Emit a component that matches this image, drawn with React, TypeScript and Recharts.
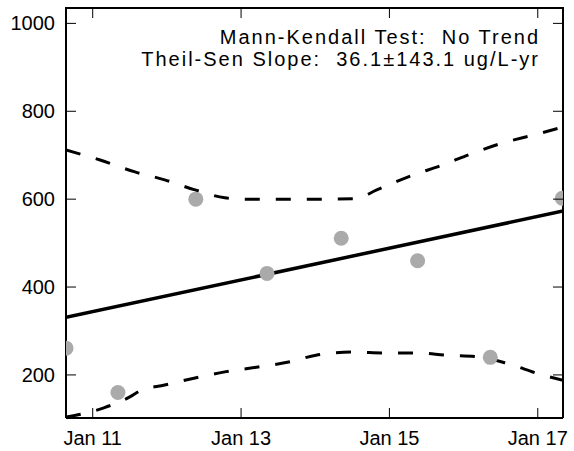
import React from 'react';
import { ComposedChart, Line, Scatter, XAxis, YAxis } from 'recharts';

// sample dates (decimal years) and concentrations
const sampleYears = [2010.64, 2011.34, 2012.39, 2013.35, 2014.35, 2015.38, 2016.36, 2017.33];
const sampleValues = [261, 160, 600, 431, 511, 460, 240, 602];

// Theil-Sen trend line end points
const trendYears = [2010.64, 2017.34];
const trendValues = [331, 573];

// confidence band
const upperYears = [2010.64, 2011.1, 2011.57, 2011.97, 2012.38, 2012.78, 2013.0, 2013.5, 2014.0, 2014.54, 2014.83, 2015.32, 2015.72, 2016.13, 2016.53, 2016.94, 2017.34];
const upperValues = [712, 689, 662, 644, 621, 603, 600, 600, 600, 601, 621, 655, 678, 705, 728, 746, 764];
const lowerYears = [2010.64, 2011.15, 2011.5, 2011.64, 2011.97, 2012.38, 2012.78, 2013.23, 2013.66, 2014.01, 2014.5, 2014.95, 2015.37, 2015.77, 2016.21, 2016.61, 2017.02, 2017.34];
const lowerValues = [104, 125, 150, 164, 177, 193, 207, 218, 230, 245, 252, 250, 250, 245, 241, 225, 202, 188];

const xTicks = [2011, 2013, 2015, 2017];
const yTicks = [200, 400, 600, 800, 1000];
const xDomain: [number, number] = [2010.64, 2017.34];
const yDomain: [number, number] = [102, 1035];

const toRows = (ts: number[], vs: number[]) => ts.map((t, i) => ({ t, v: vs[i] }));

// layout
const W = 574, H = 451;
const M = { top: 8, right: 10, bottom: 0, left: 0 };
const Y_W = 66, X_H = 33, R_W = 1;
const PLOT_LEFT = M.left + Y_W;
const PLOT_RIGHT = W - M.right - R_W;
const PLOT_TOP = M.top;

const font = '"Liberation Sans", Arial, sans-serif';
const axisLine = { stroke: '#000', strokeWidth: 2 };
const TL = 10; // inward tick length

const Dot = (p: any) => <circle cx={p.cx} cy={p.cy} r={7.5} fill="#aaaaaa" />;

// ticks point into the plot, matplotlib style; x ticks are repeated on the top frame
const BottomTick = ({ x, y, payload }: any) => (
  <g>
    <line x1={x} x2={x} y1={y} y2={y - TL} stroke="#000" />
    <line x1={x} x2={x} y1={PLOT_TOP} y2={PLOT_TOP + TL} stroke="#000" />
    <text x={x} y={y + 26.5} textAnchor="middle" fontSize={20} fontFamily={font} fill="#000">
      {`Jan ${String(payload.value).slice(2)}`}
    </text>
  </g>
);
const LeftTick = ({ x, y, payload }: any) => (
  <g>
    <line x1={x} x2={x + TL} y1={y} y2={y} stroke="#000" />
    <text x={x - 11} y={y + 7} textAnchor="end" fontSize={20} fontFamily={font} fill="#000">{payload.value}</text>
  </g>
);
const RightTick = ({ x, y }: any) => <line x1={x} x2={x - TL} y1={y} y2={y} stroke="#000" />;

export default function App() {
  const points = toRows(sampleYears, sampleValues);
  const trend = toRows(trendYears, trendValues);
  const upper = toRows(upperYears, upperValues);
  const lower = toRows(lowerYears, lowerValues);

  return (
    <div style={{ position: 'absolute', left: 0, top: 0, width: W, height: H, background: '#fff' }}>
      <ComposedChart width={W} height={H} margin={M}>
        <XAxis xAxisId="b" type="number" dataKey="t" domain={xDomain} allowDataOverflow ticks={xTicks}
          height={X_H} tickSize={0} tickMargin={0} axisLine={axisLine} tickLine={false} tick={BottomTick} />
        <YAxis yAxisId="l" type="number" domain={yDomain} allowDataOverflow ticks={yTicks} width={Y_W}
          tickSize={0} tickMargin={0} axisLine={axisLine} tickLine={false} tick={LeftTick} />
        <YAxis yAxisId="r" orientation="right" type="number" domain={yDomain} allowDataOverflow ticks={yTicks} width={R_W}
          tickSize={0} tickMargin={0} axisLine={axisLine} tickLine={false} tick={RightTick} />
        <Scatter xAxisId="b" yAxisId="l" data={points} dataKey="v" shape={Dot} isAnimationActive={false} />
        <Line xAxisId="b" yAxisId="l" data={upper} dataKey="v" type="monotone" stroke="#000" strokeWidth={3}
          strokeDasharray="15 16" dot={false} isAnimationActive={false} />
        <Line xAxisId="b" yAxisId="l" data={lower} dataKey="v" type="monotone" stroke="#000" strokeWidth={3}
          strokeDasharray="15 16" dot={false} isAnimationActive={false} />
        <Line xAxisId="b" yAxisId="l" data={trend} dataKey="v" type="linear" stroke="#000" strokeWidth={3.5}
          dot={false} isAnimationActive={false} />
        {/* invisible copy so the right frame axis is tied to a series */}
        <Line xAxisId="b" yAxisId="r" data={trend} dataKey="v" stroke="none" dot={false} isAnimationActive={false} />
      </ComposedChart>
      {/* top edge of the plot frame */}
      <svg width={W} height={H} style={{ position: 'absolute', left: 0, top: 0, pointerEvents: 'none' }}>
        <line x1={PLOT_LEFT - 1} x2={PLOT_RIGHT + 1} y1={PLOT_TOP} y2={PLOT_TOP} stroke="#000" strokeWidth={2} />
      </svg>
      <div style={{ position: 'absolute', right: 34, top: 26, textAlign: 'right', fontFamily: font, fontSize: 20,
        letterSpacing: 2, lineHeight: '22px', whiteSpace: 'pre', color: '#000' }}>
        {'Mann-Kendall Test:  No Trend\nTheil-Sen Slope:  36.1\u00b1143.1 ug/L-yr'}
      </div>
    </div>
  );
}
